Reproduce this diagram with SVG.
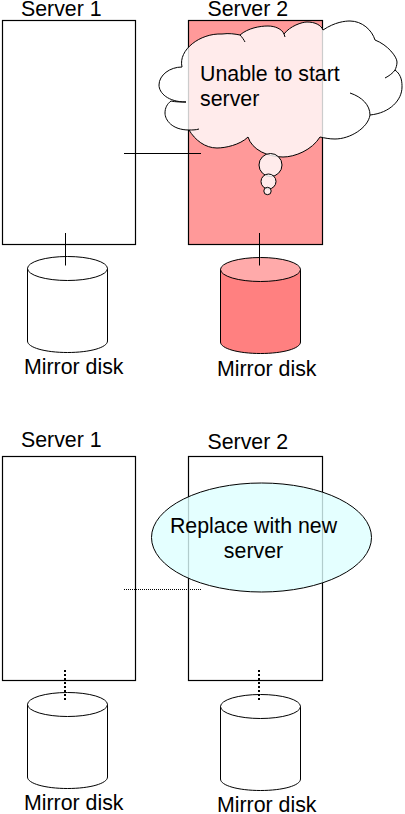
<svg xmlns="http://www.w3.org/2000/svg" width="405" height="814" viewBox="0 0 405 814">
<style>
text{font-family:"Liberation Sans",Arial,sans-serif;font-size:21.33px;fill:#000}
.box{fill:#fff;stroke:#000;stroke-width:1.2}
.edge{fill:none;stroke:#000;stroke-width:1}
.dot{fill:none;stroke:#000;stroke-width:1;stroke-dasharray:1 1}
.dotv{fill:none;stroke:#000;stroke-width:2;stroke-dasharray:2 2}
.cyl{stroke:#000;stroke-width:1}
.puff{fill:#fff;fill-opacity:.8;stroke:#000;stroke-width:1}
.cloudline{fill:none;stroke:#000;stroke-width:1}
</style>
<rect width="405" height="814" fill="#fff"/>
<g id="server1-top"><rect class="box" x="2.5" y="20.5" width="133" height="224"/><text x="21" y="16">Server 1</text></g>
<g id="server2-top"><rect class="box" style="fill:#ff9999" x="188.5" y="20.5" width="134" height="224"/><text x="207.5" y="16">Server 2</text></g>
<g id="disk1-top"><path class="cyl" fill="#fff" d="M27.5 268V341C27.5 347.5 45 352.5 67.5 352.5S107.5 347.5 107.5 341V268"/><ellipse class="cyl" fill="#fff" cx="67.5" cy="268.5" rx="40" ry="12"/><text x="24" y="374">Mirror disk</text></g>
<g id="disk2-top"><path class="cyl" fill="#ff8080" d="M220.5 269V342C220.5 348.5 238 353.5 260.5 353.5S300.5 348.5 300.5 342V269"/><ellipse class="cyl" fill="#ffaaaa" cx="260.5" cy="269.5" rx="40" ry="12"/><text x="217" y="376">Mirror disk</text></g>
<g id="server1-bottom"><rect class="box" x="2.5" y="456.5" width="133" height="224"/><text x="21" y="447">Server 1</text></g>
<g id="server2-bottom"><rect class="box" x="188.5" y="456.5" width="134" height="224"/><text x="207.5" y="448.5">Server 2</text></g>
<g id="disk1-bottom"><path class="cyl" fill="#fff" d="M27.5 704V777C27.5 783.5 45 788.5 67.5 788.5S107.5 783.5 107.5 777V704"/><ellipse class="cyl" fill="#fff" cx="67.5" cy="704.5" rx="40" ry="12"/><text x="24" y="810">Mirror disk</text></g>
<g id="disk2-bottom"><path class="cyl" fill="#fff" d="M220.5 706V779C220.5 785.5 238 790.5 260.5 790.5S300.5 785.5 300.5 779V706"/><ellipse class="cyl" fill="#fff" cx="260.5" cy="706.5" rx="40" ry="12"/><text x="217" y="812">Mirror disk</text></g>
<g id="connectors">
<path class="edge" d="M124 153.5H201M65.5 233V265.5M259.5 233V265.5"/>
<path class="dot" d="M124 589.5H201"/>
<path class="dotv" d="M65 670V701M259 670V701"/>
</g>
<g id="cloud">
<path class="puff" d="M186 102C168 102 159 93 159 85C159 75 170 67 182 67C178 50 200 33 222 34C229 33 235 34 240 35C248 28 260 26 268 26C275 26 282 29 284 34C290 26 302 22 307 22C315 22 321 25 323 30C335 22 345 21 350 21C362 21 372 30 375 40C388 45 397 57 397 62C397 65 396 68 395 70C402 75 402 83 402 87C402 100 390 113 370 115C368 128 350 139 335 139C329 139 325 138 320 137C312 150 295 157 283 157C268 157 252 150 248 137C240 145 225 148 217 148C205 148 195 140 189 130C172 130 165 120 165 113C165 108 167 104 171 101C175 102 181 102 186 102Z"/>
<path class="cloudline" d="M240 35C242 37 244 40 245 42M284 34L285 37M395 70C393 73 389 76 385 78M350 93C362 97 370 105 370 115M189 130C192 130 196 130 199 129"/>
<circle class="puff" cx="270.5" cy="165" r="11.5"/>
<circle class="puff" cx="268.5" cy="181.5" r="7.5"/>
<circle class="puff" cx="267.5" cy="191" r="3.7"/>
<text x="200" y="81">Unable <tspan dx="1">to start</tspan></text>
<text x="200" y="106">server</text>
</g>
<g id="replace-note">
<ellipse cx="261.5" cy="537.5" rx="110" ry="54.5" fill="#ddffff" fill-opacity=".8" stroke="#000"/>
<text x="253.5" y="533" text-anchor="middle">Replace with new</text>
<text x="253.5" y="558" text-anchor="middle">server</text>
</g>
</svg>
